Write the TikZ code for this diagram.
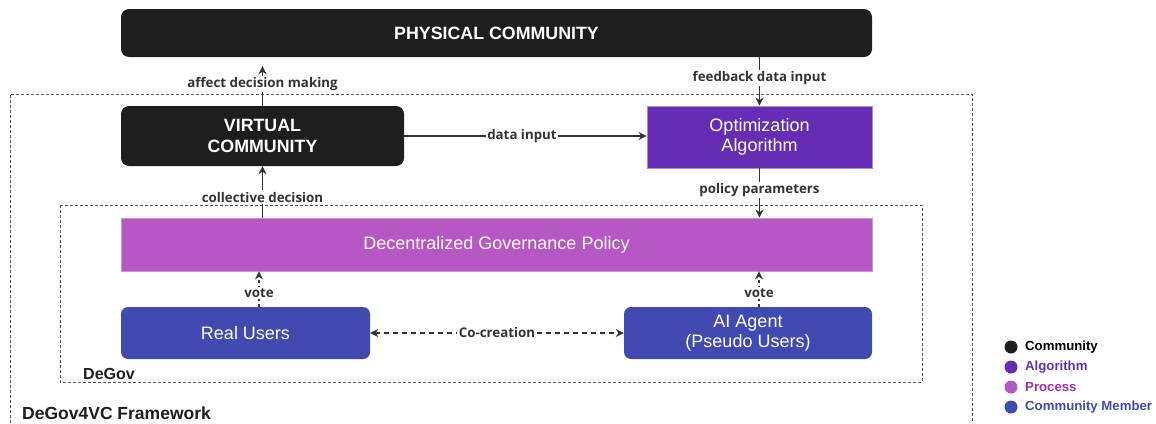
\documentclass[tikz,border=0pt]{standalone}
\usepackage{fontspec}
\setmainfont{Liberation Sans}
\newfontfamily\lblfont{Open Sans}
\usetikzlibrary{arrows.meta, positioning}

\definecolor{commblack}{HTML}{1E1E1E}
\definecolor{algpurple}{HTML}{652DB4}
\definecolor{procpink}{HTML}{B558C3}
\definecolor{proctext}{HTML}{A12BB5}
\definecolor{membblue}{HTML}{414AB1}
\definecolor{linegray}{HTML}{333333}
\definecolor{framegray}{HTML}{555555}

\begin{document}
\begin{tikzpicture}[x=1pt, y=-1pt, >={Stealth[length=8pt,width=8pt]},
  boxtext/.style={text=white, align=center, inner sep=0pt,
    font=\fontsize{18}{20.5}\selectfont},
  commbox/.style={boxtext, fill=commblack, rounded corners=8pt,
    font=\bfseries\fontsize{17.8}{20.5}\selectfont},
  algbox/.style={boxtext, fill=algpurple, draw=algpurple!55!white, line width=0.8pt},
  procbox/.style={boxtext, fill=procpink, draw=procpink!65!white, line width=0.8pt},
  membbox/.style={boxtext, fill=membblue, rounded corners=7pt},
  flow/.style={draw=linegray, line width=1.3pt, ->},
  lbl/.style={fill=white, text=linegray, inner sep=1.5pt,
    font=\lblfont\bfseries\fontsize{13.3}{15}\selectfont},
  frame/.style={draw=framegray, line width=0.8pt, dash pattern=on 3pt off 2pt},
  legdot/.style={circle, minimum size=13pt, inner sep=0pt},
  legtxt/.style={anchor=west, inner sep=0pt, font=\bfseries\fontsize{13.2}{15}\selectfont}]
  \useasboundingbox (0,0) rectangle (1156,423);

  % framework and degov frames
  \draw [frame] (10,423) -- (10,94) -- (972,94) -- (972,423);
  \draw [frame] (60,205) rectangle (922,382);
  \node [anchor=west, inner sep=0pt, font=\bfseries\fontsize{16}{18}\selectfont,
    text=commblack] (degovlbl) at (83,374) {DeGov};
  \node [anchor=west, inner sep=0pt, font=\bfseries\fontsize{17.5}{19}\selectfont,
    text=commblack] (framelbl) at (22,413) {DeGov4VC Framework};

  % boxes
  \node [commbox, minimum width=751pt, minimum height=48pt] (physical) at (496.5,33) {PHYSICAL COMMUNITY};
  \node [commbox, minimum width=283pt, minimum height=60pt] (virtual) at (262.5,136) {VIRTUAL\\COMMUNITY};
  \node [algbox, minimum width=225pt, minimum height=62pt] (optim) at (759.5,137) {Optimization\\Algorithm};
  \node [procbox, minimum width=751pt, minimum height=53pt] (policy) at (496.5,244.5) {Decentralized Governance Policy};
  \node [membbox, minimum width=249pt, minimum height=52pt] (real) at (245.5,333) {Real Users};
  \node [membbox, minimum width=248pt, minimum height=52pt] (agent) at (748,333) {AI Agent\\(Pseudo Users)};

  % connectors
  \draw [flow, shorten >=9pt] (virtual.north) -- (virtual.north |- physical.south)
    node [lbl, pos=0.45] {affect decision making};
  \draw [flow] (physical.south -| optim.north) -- (optim.north)
    node [lbl, pos=0.43] {feedback data input};
  \draw [flow] (virtual.east) -- (virtual.east -| optim.west)
    node [lbl, pos=0.486] {data input};
  \draw [flow] (policy.north -| virtual.south) -- (virtual.south)
    node [lbl, pos=0.4] {collective decision};
  \draw [flow] (optim.south) -- (optim.south |- policy.north)
    node [lbl, pos=0.44] {policy parameters};
  \draw [flow, dashed] ([xshift=13.5pt]real.north) -- ([xshift=13.5pt]real.north |- policy.south)
    node [lbl, pos=0.39] {vote};
  \draw [flow, dashed] ([xshift=11pt]agent.north) -- ([xshift=11pt]agent.north |- policy.south)
    node [lbl, pos=0.39] {vote};
  \draw [flow, <->, dash pattern=on 5pt off 4pt] (real.east) -- (agent.west)
    node [lbl, pos=0.5] {Co-creation};

  % legend
  \foreach \n/\y/\c/\tc/\t in {comm/347/commblack/black/Community,
      alg/367/algpurple/algpurple/Algorithm,
      proc/387/procpink/proctext/Process,
      memb/407/membblue/membblue/Community Member} {
    \node [legdot, fill=\c] (dot\n) at (1011,\y) {};
    \node [legtxt, text=\tc, right=14pt of dot\n.center] (leg\n) {\t};
  }
\end{tikzpicture}
\end{document}
